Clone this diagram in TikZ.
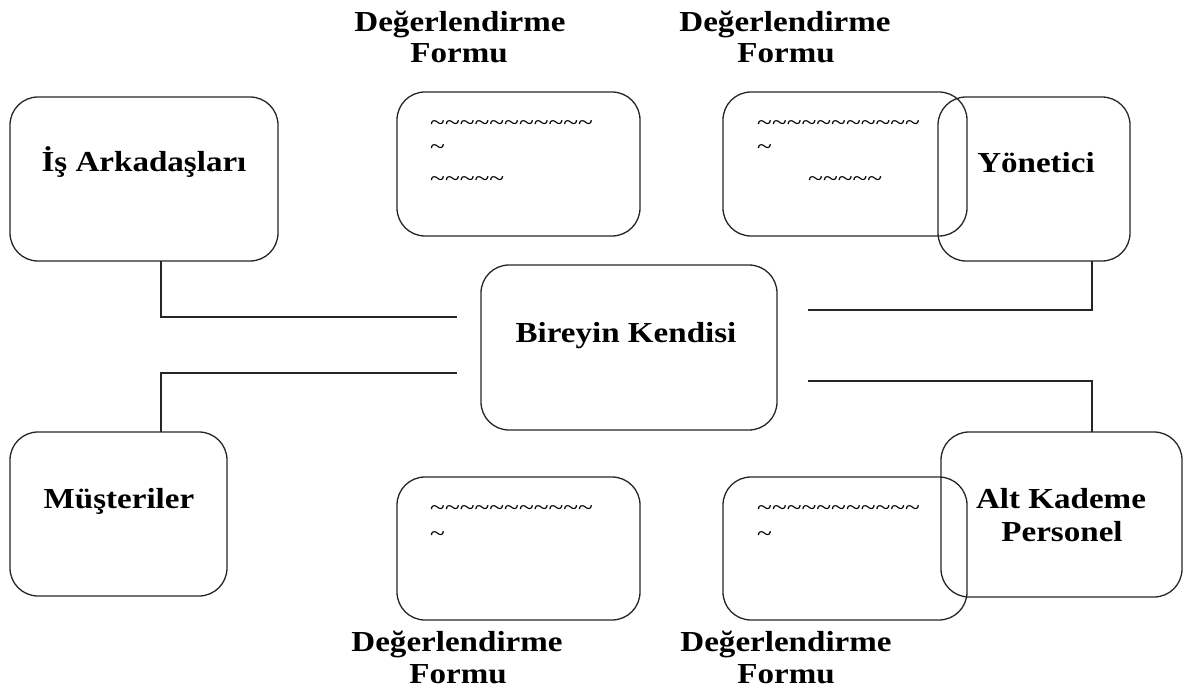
\documentclass[tikz,border=0pt]{standalone}
\usepackage{fontspec}
\setmainfont[FakeStretch=1.14]{Liberation Serif}
\begin{document}
\begin{tikzpicture}[x=1pt,y=-1pt,
  box/.style={draw=black!85, line width=1.3pt, rounded corners=28pt, inner sep=0pt, outer sep=0pt},
  lbl/.style={anchor=base, inner sep=0pt, font=\fontsize{29}{32}\selectfont\bfseries},
  tl/.style={anchor=base west, inner sep=0pt, font=\fontsize{24}{28}\selectfont},
  conn/.style={draw=black!85, line width=1.3pt}]
\useasboundingbox (0,0) rectangle (1188,692);
% boxes
\node[box, minimum width=268pt, minimum height=164pt] (is) at (144,179) {};
\node[box, minimum width=243pt, minimum height=144pt] (f1) at (518.5,164) {};
\node[box, minimum width=244pt, minimum height=144pt] (f2) at (845,164) {};
\node[box, minimum width=192pt, minimum height=164pt] (yon) at (1034,179) {};
\node[box, minimum width=296pt, minimum height=165pt] (ben) at (629,347.5) {};
\node[box, minimum width=217pt, minimum height=164pt] (mus) at (118.5,514) {};
\node[box, minimum width=243pt, minimum height=143pt] (f3) at (518.5,548.5) {};
\node[box, minimum width=244pt, minimum height=143pt] (f4) at (845,548.5) {};
\node[box, minimum width=241pt, minimum height=165pt] (alt) at (1061.5,514.5) {};
% box texts
\node[lbl] (tis) at (144,172) {İş Arkadaşları};
\node[lbl] (tyon) at (1036,173) {Yönetici};
\node[lbl] (tben) at (626,342) {Bireyin Kendisi};
\node[lbl] (tmus) at (119,508) {Müşteriler};
\node[lbl] (talt1) at (1061,508) {Alt Kademe};
\node[lbl] (talt2) at (1062,541) {Personel};
% form labels
\node[lbl] (l1a) at (460,32) {Değerlendirme};
\node[lbl] (l1b) at (459,63) {Formu};
\node[lbl] (l2a) at (785,32) {Değerlendirme};
\node[lbl] (l2b) at (786,63) {Formu};
\node[lbl] (l3a) at (457,651) {Değerlendirme};
\node[lbl] (l3b) at (458,683) {Formu};
\node[lbl] (l4a) at (786,651) {Değerlendirme};
\node[lbl] (l4b) at (786,683) {Formu};
% tildes
\def\tl#1{\foreach\i in {1,...,#1}{\textasciitilde}}
\node[tl] (t11) at (430,131) {\textasciitilde\textasciitilde\textasciitilde\textasciitilde\textasciitilde\textasciitilde\textasciitilde\textasciitilde\textasciitilde\textasciitilde\textasciitilde};
\node[tl] (t12) at (430,155) {\textasciitilde};
\node[tl] (t13) at (430,187) {\textasciitilde\textasciitilde\textasciitilde\textasciitilde\textasciitilde};
\node[tl] (t21) at (757,131) {\textasciitilde\textasciitilde\textasciitilde\textasciitilde\textasciitilde\textasciitilde\textasciitilde\textasciitilde\textasciitilde\textasciitilde\textasciitilde};
\node[tl] (t22) at (757,155) {\textasciitilde};
\node[tl] (t23) at (808,187) {\textasciitilde\textasciitilde\textasciitilde\textasciitilde\textasciitilde};
\node[tl] (t31) at (430,515) {\textasciitilde\textasciitilde\textasciitilde\textasciitilde\textasciitilde\textasciitilde\textasciitilde\textasciitilde\textasciitilde\textasciitilde\textasciitilde};
\node[tl] (t32) at (430,541) {\textasciitilde};
\node[tl] (t41) at (757,515) {\textasciitilde\textasciitilde\textasciitilde\textasciitilde\textasciitilde\textasciitilde\textasciitilde\textasciitilde\textasciitilde\textasciitilde\textasciitilde};
\node[tl] (t42) at (757,541) {\textasciitilde};
% connectors
\coordinate (c1) at (457,317);
\coordinate (c2) at (457,373);
\coordinate (c3) at (808,310);
\coordinate (c4) at (808,381);
\draw[conn] ([xshift=17pt]is.south) |- (c1);
\draw[conn] ([xshift=42.5pt]mus.north) |- (c2);
\draw[conn] ([xshift=58pt]yon.south) |- (c3);
\draw[conn] ([xshift=30.5pt]alt.north) |- (c4);
\end{tikzpicture}
\end{document}
